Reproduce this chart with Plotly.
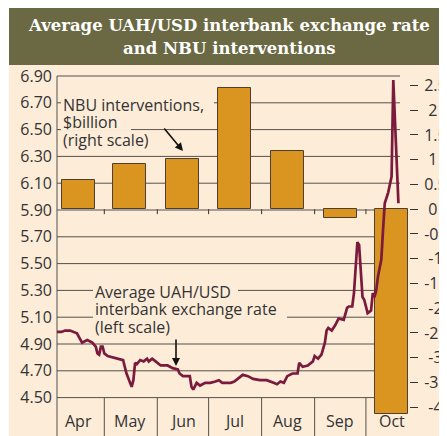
import plotly.graph_objects as go
import pandas as pd

# ---------------- data ----------------
months = ["Apr", "May", "Jun", "Jul", "Aug", "Sep", "Oct"]
bar_dates = ["2008-04-16", "2008-05-16", "2008-06-16", "2008-07-16",
             "2008-08-16", "2008-09-16", "2008-10-16"]
interventions = [0.58, 0.91, 1.02, 2.45, 1.18, -0.18, -4.14]   # $bn, right scale
month_starts = ["2008-05-01", "2008-06-01", "2008-07-01", "2008-08-01",
                "2008-09-01", "2008-10-01"]

rate_dates = [
    "2008-04-02", "2008-04-06", "2008-04-08", "2008-04-11", "2008-04-15", "2008-04-17",
    "2008-04-18", "2008-04-21", "2008-04-24", "2008-04-26", "2008-04-27", "2008-04-28",
    "2008-04-29", "2008-04-30", "2008-05-01", "2008-05-03", "2008-05-06", "2008-05-10",
    "2008-05-12", "2008-05-14", "2008-05-15", "2008-05-17", "2008-05-18", "2008-05-19",
    "2008-05-20", "2008-05-22", "2008-05-24", "2008-05-26", "2008-05-27", "2008-05-29",
    "2008-05-31", "2008-06-03", "2008-06-06", "2008-06-07", "2008-06-10", "2008-06-13",
    "2008-06-14", "2008-06-16", "2008-06-18", "2008-06-20", "2008-06-21", "2008-06-22",
    "2008-06-24", "2008-06-26", "2008-06-29", "2008-07-02", "2008-07-05", "2008-07-07",
    "2008-07-09", "2008-07-14", "2008-07-16", "2008-07-21", "2008-07-24", "2008-07-27",
    "2008-07-31", "2008-08-04", "2008-08-08", "2008-08-10", "2008-08-12", "2008-08-14",
    "2008-08-16", "2008-08-19", "2008-08-22", "2008-08-23", "2008-08-25", "2008-08-28",
    "2008-08-31", "2008-09-01", "2008-09-03", "2008-09-05", "2008-09-07", "2008-09-08",
    "2008-09-09", "2008-09-11", "2008-09-13", "2008-09-15", "2008-09-18", "2008-09-20",
    "2008-09-21", "2008-09-23", "2008-09-24", "2008-09-25", "2008-09-26", "2008-09-27",
    "2008-09-28", "2008-09-29", "2008-09-30", "2008-10-02", "2008-10-04", "2008-10-05",
    "2008-10-06", "2008-10-07", "2008-10-08", "2008-10-10", "2008-10-11", "2008-10-12",
    "2008-10-14", "2008-10-15", "2008-10-16", "2008-10-17", "2008-10-18", "2008-10-19",
    "2008-10-20",
]
rate_values = [
    4.99, 4.99, 5.00, 5.00, 4.98, 4.93,
    4.91, 4.93, 4.91, 4.88, 4.83, 4.82,
    4.88, 4.88, 4.83, 4.81, 4.80, 4.79,
    4.78, 4.68, 4.65, 4.58, 4.63, 4.76,
    4.75, 4.78, 4.77, 4.79, 4.77, 4.79,
    4.77, 4.74, 4.74, 4.74, 4.72, 4.71,
    4.68, 4.66, 4.66, 4.66, 4.58, 4.56,
    4.61, 4.59, 4.61, 4.61, 4.62, 4.63,
    4.61, 4.61, 4.62, 4.67, 4.66, 4.64,
    4.63, 4.63, 4.61, 4.60, 4.62, 4.61,
    4.66, 4.68, 4.68, 4.76, 4.73, 4.74,
    4.77, 4.81, 4.79, 4.82, 4.91, 5.00,
    5.02, 5.00, 5.04, 5.09, 5.08, 5.17,
    5.18, 5.18, 5.28, 5.48, 5.66, 5.64,
    5.48, 5.25, 5.23, 5.13, 5.15, 5.28,
    5.25, 5.30, 5.40, 5.53, 5.75, 5.95,
    6.03, 6.10, 6.15, 6.87, 6.55, 6.25,
    5.95,
]

left_ticks = [4.50, 4.70, 4.90, 5.10, 5.30, 5.50, 5.70, 5.90, 6.10, 6.30, 6.50, 6.70, 6.90]
right_ticks = [2.5, 2, 1.5, 1, 0.5, 0, -0.5, -1, -1.5, -2, -2.5, -3, -3.5, -4]

# ---------------- geometry (screen pixels) ----------------
SW, SH = 447, 436           # window
OFF = 8                     # page body margin
W, H = SW - OFF, SH - OFF   # figure size
PL, PR, PT, PB = 57, 409, 66, 436          # plot area, screen pixels
base = pd.Timestamp("2008-04-01")
PX_PER_DAY = 1.71
X0_PX = 53                                   # screen pixel of 1 April


def px_date(p):
    return base + pd.Timedelta(days=(p - X0_PX) / PX_PER_DAY)


def pxx(p):
    return (p - PL) / (PR - PL)


def pxy(p):
    return (PB - p) / (PB - PT)


# left scale: 6.90 at y=76, 134 px per unit
L_TOP = 6.90 + (76 - PT) / 134
L_BOT = 6.90 - (PB - 76) / 134
# right scale: 0 at y=209.2, 49.5 px per unit
R_TOP = (209.2 - PT) / 49.5
R_BOT = -(PB - 209.2) / 49.5

BG = "#fdecd8"
BAND = "#6a6943"
TXT = "#333333"
GRID = "#55504a"
BAR = "#d99520"
BAR_EDGE = "#4d4033"
LINE = "#7b1a3c"
FONT = "Open Sans"

fig = go.Figure()

fig.add_trace(go.Bar(
    x=pd.to_datetime(bar_dates), y=interventions, yaxis="y",
    width=33 / PX_PER_DAY * 86400000,
    marker=dict(color=BAR, line=dict(color=BAR_EDGE, width=1)),
    hoverinfo="skip", showlegend=False,
))
fig.add_trace(go.Scatter(
    x=pd.to_datetime(rate_dates), y=rate_values, yaxis="y2",
    mode="lines", line=dict(color=LINE, width=2.7),
    hoverinfo="skip", showlegend=False,
))

shapes = []
# background
shapes.append(dict(type="rect", xref="paper", yref="paper", layer="below",
                   x0=pxx(9), x1=pxx(SW + 4), y0=pxy(SH + 4), y1=pxy(OFF - 2),
                   fillcolor=BG, line=dict(width=0)))
# title band
shapes.append(dict(type="rect", xref="paper", yref="paper", layer="below",
                   x0=pxx(9), x1=pxx(SW + 4), y0=pxy(65), y1=pxy(OFF - 2),
                   fillcolor=BAND, line=dict(width=0)))
# gridlines (left scale)
x_start = px_date(PL - 2)
x_end = px_date(400)
for v in left_ticks:
    shapes.append(dict(type="line", xref="x", yref="y2", layer="below",
                       x0=x_start, x1=x_end, y0=v, y1=v,
                       line=dict(color=GRID, width=1)))
# left axis line
shapes.append(dict(type="line", xref="paper", yref="y2", layer="below",
                   x0=0, x1=0, y0=6.90, y1=L_BOT,
                   line=dict(color=GRID, width=1)))
# month separators below the 4.50 line
for d in month_starts:
    shapes.append(dict(type="line", xref="x", yref="y2", layer="below",
                       x0=d, x1=d, y0=4.50, y1=L_BOT,
                       line=dict(color=GRID, width=1)))
    # little ticks on the zero line of the right scale
    shapes.append(dict(type="line", xref="x", yref="y", layer="below",
                       x0=d, x1=d, y0=0, y1=-0.1,
                       line=dict(color=TXT, width=1)))

# label background patches (hide gridlines behind the labels)
label_boxes = [
    (61, 214, 95, 113.5), (61, 131, 113.5, 130.5), (61, 163, 130.5, 150),
    (93, 238, 283, 300), (93, 287, 300, 319), (93, 183, 319, 337),
]
for x0, x1, y0, y1 in label_boxes:
    shapes.append(dict(type="rect", xref="paper", yref="paper", layer="above",
                       x0=pxx(x0), x1=pxx(x1), y0=pxy(y1), y1=pxy(y0),
                       fillcolor=BG, line=dict(width=0)))

annotations = []
# title
for txt, yy in [("<b>Average UAH/USD interbank exchange rate</b>", 25),
                ("<b>and NBU interventions</b>", 48)]:
    annotations.append(dict(xref="paper", yref="paper", x=pxx(229), y=pxy(yy),
                            text=txt, showarrow=False, xanchor="center", yanchor="middle",
                            font=dict(family="DejaVu Serif", size=16.5, color="white")))

# series labels
for txt, yy in [("NBU interventions,", 105), ("$billion", 122), ("(right scale)", 140)]:
    annotations.append(dict(xref="paper", yref="paper", x=pxx(62), y=pxy(yy),
                            text=txt, showarrow=False, xanchor="left", yanchor="middle",
                            borderpad=0,
                            font=dict(family=FONT, size=16, color=TXT)))
for txt, yy in [("Average UAH/USD", 292), ("interbank exchange rate", 309),
                ("(left scale)", 327)]:
    annotations.append(dict(xref="paper", yref="paper", x=pxx(94), y=pxy(yy),
                            text=txt, showarrow=False, xanchor="left", yanchor="middle",
                            borderpad=0,
                            font=dict(family=FONT, size=16, color=TXT)))
# arrows
annotations.append(dict(xref="paper", yref="paper", x=pxx(183), y=pxy(151),
                        text="", showarrow=True, ax=-20, ay=-24,
                        arrowhead=2, arrowsize=1, arrowwidth=1.6, arrowcolor="#111111"))
annotations.append(dict(xref="paper", yref="paper", x=pxx(176), y=pxy(366),
                        text="", showarrow=True, ax=0, ay=-28,
                        arrowhead=2, arrowsize=1, arrowwidth=1.6, arrowcolor="#111111"))
# month labels
for m, d in zip(months, bar_dates):
    annotations.append(dict(xref="x", yref="paper", x=d, y=pxy(421),
                            text=m, showarrow=False, xanchor="center", yanchor="middle",
                            font=dict(family=FONT, size=16, color=TXT)))

right_text = []
for v in right_ticks:
    s = ("%g" % v)
    if len(s.replace("-", "")) == 1:
        s = "\u00a0" + s
    right_text.append(s)

fig.update_layout(
    width=W, height=H,
    margin=dict(l=PL - OFF, r=SW - PR, t=PT - OFF, b=SH - PB, pad=0, autoexpand=False),
    paper_bgcolor="white",
    plot_bgcolor="rgba(0,0,0,0)",
    showlegend=False,
    bargap=0,
    xaxis=dict(type="date", range=[px_date(PL), px_date(PR)], automargin=False,
               showgrid=False, zeroline=False, showline=False,
               showticklabels=False, ticks=""),
    yaxis=dict(range=[R_BOT, R_TOP], side="right", automargin=False,
               tickvals=right_ticks, ticktext=right_text,
               ticks="outside", ticklen=8, tickwidth=1, tickcolor=TXT,
               ticklabelstandoff=3,
               showgrid=False, zeroline=False, showline=False,
               tickfont=dict(family=FONT, size=16, color=TXT)),
    yaxis2=dict(range=[L_BOT, L_TOP], side="left", overlaying="y", automargin=False,
                tickvals=left_ticks, ticktext=["%.2f" % v for v in left_ticks],
                ticks="", ticklabelstandoff=4,
                showgrid=False, zeroline=False, showline=False,
                tickfont=dict(family=FONT, size=16, color=TXT)),
    shapes=shapes,
    annotations=annotations,
)

fig.write_html("out.html")
